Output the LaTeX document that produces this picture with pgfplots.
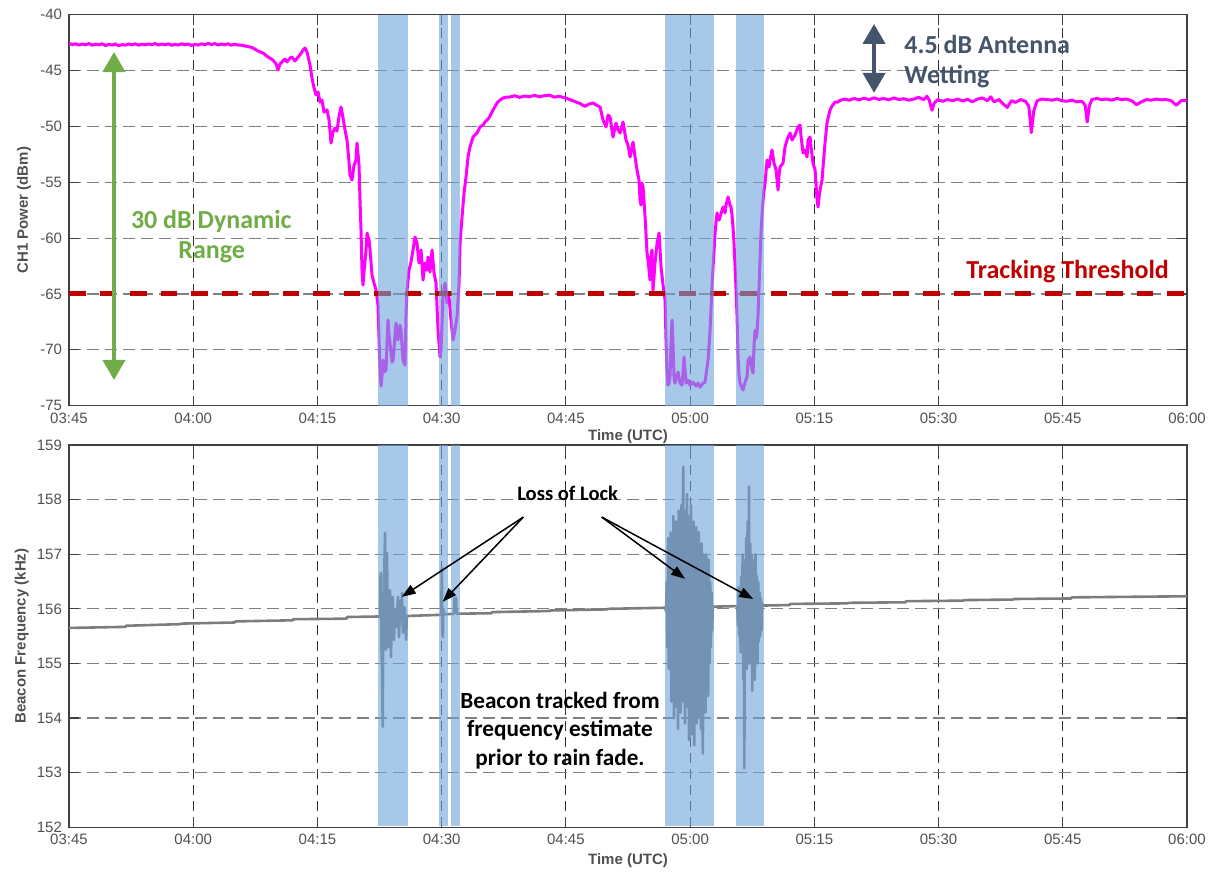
\documentclass[border=0pt]{standalone}
\usepackage{fontspec}
\setmainfont{Liberation Sans}
\newfontfamily\calib{Carlito}
\usepackage{pgfplots}
\pgfplotsset{compat=1.18}
\usetikzlibrary{arrows.meta}
\definecolor{mag}{RGB}{255,0,255}
\definecolor{thr}{RGB}{192,0,0}
\definecolor{spanc}{RGB}{110,163,218}
\definecolor{grn}{RGB}{112,173,71}
\definecolor{slate}{RGB}{68,84,106}
\definecolor{lgray}{RGB}{125,125,125}
\definecolor{tickc}{RGB}{80,80,80}
\pgfplotsset{
  base/.style={
    scale only axis, width=559pt, xmin=0, xmax=135,
    xtick={0,15,...,135},
    xticklabels={03:45,04:00,04:15,04:30,04:45,05:00,05:15,05:30,05:45,06:00},
    grid=major,
    major x grid style={black!80, line width=0.5pt, dash pattern=on 5pt off 3pt},
    major y grid style={black!50, line width=0.6pt, dash pattern=on 6pt off 3pt},
    axis line style={black!75, line width=0.7pt},
    tick align=inside, major tick length=5pt,
    tick style={black!75, line width=0.6pt},
    ticklabel style={font=\fontsize{7.5}{9}\selectfont, text=tickc},
    /pgf/number format/assume math mode=true,
    label style={font=\bfseries\fontsize{7.5}{9}\selectfont, text=tickc},
  },
  span/.style={fill=spanc, fill opacity=0.6, draw=none, forget plot},
}
\begin{document}
\begin{tikzpicture}
\useasboundingbox (0pt,0pt) rectangle (604.5pt,436pt);
% ---------------- top axis ----------------
\begin{axis}[base, at={(34.5pt,233.15pt)}, anchor=south west, height=195.5pt,
  ymin=-75, ymax=-40, ytick={-75,-70,...,-40},
  ylabel={CH1 Power (dBm)},
  ylabel style={at={(axis description cs:-0.0402,0.5)}, anchor=center},
  xlabel={Time (UTC)},
  xlabel style={at={(axis description cs:0.5,-0.080)}, anchor=center},
]
\addplot[mag, line width=1.5pt, line join=round, no marks] coordinates {
(0,-42.55)(0.4,-42.68)(0.8,-42.6)(1.2,-42.72)(1.6,-42.62)(2.0,-42.7)(2.4,-42.58)(2.8,-42.74)(3.2,-42.64)(3.6,-42.7)
(4.0,-42.6)(4.4,-42.76)(4.8,-42.66)(5.2,-42.72)(5.6,-42.62)(6.0,-42.78)(6.4,-42.68)(6.8,-42.72)(7.2,-42.62)(7.6,-42.7)
(8.0,-42.6)(8.4,-42.74)(8.8,-42.64)(9.2,-42.7)(9.6,-42.62)(10.0,-42.68)(10.4,-42.58)(10.8,-42.72)(11.2,-42.62)(11.6,-42.7)
(12.0,-42.6)(12.4,-42.74)(12.8,-42.66)(13.2,-42.72)(13.6,-42.6)(14.0,-42.7)(14.4,-42.62)(14.8,-42.76)(15.2,-42.66)(15.6,-42.72)
(16.0,-42.6)(16.4,-42.7)(16.8,-42.56)(17.2,-42.68)(17.6,-42.58)(18.0,-42.72)(18.4,-42.62)(18.8,-42.7)(19.2,-42.6)(19.6,-42.74)
(20.0,-42.64)(20.4,-42.72)(20.65,-42.71)(21.25,-42.80)(21.86,-42.89)(22.22,-42.98)(22.82,-43.25)(23.43,-43.43)(24.03,-43.79)
(24.63,-44.06)(25.0,-44.41)(25.24,-44.95)(25.48,-44.41)(25.72,-44.23)(26.08,-43.97)(26.33,-44.23)(26.69,-43.88)(26.93,-43.79)
(27.29,-44.15)(27.65,-43.79)(27.89,-43.61)(28.26,-43.16)(28.50,-42.98)(28.74,-43.34)(29.10,-44.50)(29.34,-45.67)(29.59,-46.56)
(29.83,-47.19)(30.07,-46.92)(30.31,-47.82)(30.55,-47.64)(30.79,-48.71)(31.16,-48.53)(31.40,-49.43)(31.64,-51.49)(31.88,-50.50)
(32.12,-50.14)(32.36,-50.41)(32.61,-49.07)(32.85,-48.26)(33.09,-49.25)(33.33,-50.32)(33.57,-51.22)(33.81,-53.19)(33.93,-54.35)
(34.17,-54.80)(34.42,-53.46)(34.66,-53.01)(34.78,-51.49)(35.02,-53.46)(35.14,-56.59)(35.26,-59.28)(35.38,-62.86)(35.50,-64.20)
(35.62,-63.04)(35.87,-61.07)(35.99,-59.55)(36.23,-60.17)(36.35,-61.07)(36.59,-63.31)(36.83,-64.02)(37.07,-64.65)(37.31,-65.99)
(37.44,-69.12)(37.56,-71.81)(37.68,-73.25)(37.80,-72.26)(37.92,-70.92)(38.04,-71.99)(38.28,-71.81)(38.40,-69.57)(38.52,-67.33)
(38.64,-68.68)(38.76,-69.39)(39.01,-71.10)(39.13,-70.92)(39.37,-68.68)(39.49,-67.60)(39.73,-69.12)(39.97,-67.78)(40.09,-68.23)
(40.21,-69.57)(40.33,-70.92)(40.57,-71.37)(40.70,-66.70)(40.82,-64.65)(40.94,-63.75)(41.06,-62.86)(41.30,-62.14)(41.54,-61.07)
(41.78,-59.90)(42.02,-60.44)(42.26,-62.23)(42.51,-61.07)(42.75,-63.75)(42.99,-62.23)(43.23,-62.86)(43.35,-61.69)(43.59,-63.04)
(43.84,-61.07)(44.08,-63.13)(44.32,-64.02)(44.56,-68.23)(44.80,-70.65)(44.92,-70.02)(45.16,-65.28)(45.41,-64.02)(45.65,-65.81)
(45.89,-65.28)(46.13,-67.33)(46.37,-69.12)(46.61,-68.23)(46.85,-67.06)(47.10,-64.02)(47.22,-60.44)(47.46,-58.11)(47.70,-55.96)
(47.94,-54.53)(48.18,-52.74)(48.42,-51.84)(48.79,-50.95)(49.27,-50.59)(49.63,-50.05)(50.0,-49.87)(50.24,-49.61)(50.60,-49.34)
(50.84,-49.07)(51.2,-48.53)(51.68,-47.91)(52.05,-47.64)(52.41,-47.46)(52.89,-47.37)(53.25,-47.37)(53.8,-47.25)(54.4,-47.4)
(55.0,-47.28)(55.6,-47.35)(56.2,-47.22)(56.8,-47.35)(57.4,-47.25)(58.0,-47.2)(58.6,-47.38)(59.2,-47.3)(59.9,-47.45)(60.5,-47.6)
(61.1,-47.78)(61.7,-47.95)(62.3,-48.2)(62.8,-48.0)(63.3,-47.9)(63.7,-48.1)(64.12,-48.26)(64.49,-49.43)(64.85,-50.05)(65.09,-48.98)
(65.33,-49.16)(65.69,-50.95)(66.05,-49.70)(66.30,-50.32)(66.54,-50.59)(66.90,-49.61)(67.26,-51.22)(67.50,-51.67)(67.75,-52.74)
(68.11,-51.40)(68.35,-52.74)(68.59,-53.91)(68.83,-54.80)(68.95,-56.59)(69.07,-57.04)(69.19,-55.07)(69.32,-55.43)(69.56,-58.11)
(69.80,-61.34)(69.92,-61.96)(70.16,-63.75)(70.28,-61.52)(70.40,-61.07)(70.52,-64.65)(70.76,-62.23)(71.01,-60.44)(71.25,-59.55)
(71.37,-61.07)(71.49,-62.59)(71.73,-64.20)(71.97,-65.54)(72.09,-69.12)(72.21,-71.81)(72.33,-73.16)(72.46,-72.98)(72.58,-72.26)
(72.70,-69.12)(72.82,-67.33)(72.94,-69.57)(73.06,-72.53)(73.18,-72.98)(73.42,-72.26)(73.54,-71.99)(73.78,-72.98)(74.03,-73.16)
(74.27,-70.65)(74.39,-71.81)(74.51,-72.98)(74.75,-72.71)(74.99,-73.16)(75.35,-72.89)(75.72,-73.25)(75.96,-72.98)(76.20,-73.34)
(76.56,-72.98)(76.80,-72.89)(76.92,-72.26)(77.16,-70.92)(77.41,-68.23)(77.53,-66.17)(77.65,-64.20)(77.77,-62.59)(77.89,-61.07)
(78.01,-59.55)(78.13,-58.56)(78.25,-57.75)(78.49,-58.38)(78.61,-58.11)(78.86,-57.49)(78.98,-57.22)(79.22,-57.75)(79.34,-57.04)
(79.58,-56.32)(79.82,-57.04)(79.94,-57.22)(80.06,-57.93)(80.18,-59.01)(80.31,-60.62)(80.43,-62.59)(80.55,-64.65)(80.67,-67.06)
(80.79,-70.65)(80.91,-72.26)(81.03,-72.98)(81.27,-73.43)(81.39,-73.61)(81.63,-72.89)(81.87,-72.44)(82.00,-70.92)(82.24,-70.65)
(82.48,-71.81)(82.60,-72.08)(82.72,-69.57)(82.84,-68.23)(82.96,-68.95)(83.08,-68.50)(83.20,-66.88)(83.32,-64.38)(83.44,-61.96)
(83.56,-59.55)(83.68,-57.93)(83.81,-56.59)(83.93,-55.69)(84.05,-55.07)(84.29,-53.01)(84.53,-53.64)(84.65,-53.01)(84.89,-52.11)
(85.13,-53.28)(85.38,-53.91)(85.50,-54.80)(85.62,-55.69)(85.74,-54.35)(85.86,-53.64)(86.22,-53.28)(86.46,-51.84)(86.70,-51.22)
(86.83,-50.95)(87.07,-50.59)(87.31,-51.22)(87.67,-50.77)(88.03,-50.05)(88.27,-49.87)(88.40,-50.95)(88.64,-52.38)(88.88,-52.11)
(89.12,-52.74)(89.24,-51.22)(89.48,-50.95)(89.60,-51.84)(89.84,-53.28)(90.09,-53.91)(90.33,-56.59)(90.45,-57.22)(90.57,-56.32)
(90.69,-55.69)(90.93,-54.80)(91.05,-53.64)(91.29,-51.49)(91.53,-49.70)(91.66,-49.25)(91.90,-48.53)(92.14,-48.17)(92.50,-47.82)
(92.86,-47.82)(93.0,-47.7)(93.6,-47.55)(94.2,-47.65)(94.8,-47.5)(95.4,-47.62)(96.0,-47.48)(96.6,-47.6)(97.2,-47.45)(97.8,-47.58)
(98.4,-47.5)(99.0,-47.62)(99.6,-47.45)(100.2,-47.6)(100.8,-47.52)(101.4,-47.65)(102.0,-47.55)(102.6,-47.4)(103.2,-47.6)(103.6,-47.3)
(103.9,-47.7)(104.2,-48.55)(104.5,-47.9)(104.9,-47.6)(105.5,-47.75)(106.1,-47.6)(106.7,-47.7)(107.3,-47.55)(107.9,-47.72)(108.5,-47.58)
(109.1,-47.8)(109.7,-47.55)(110.3,-47.45)(110.9,-47.7)(111.3,-47.35)(111.7,-47.8)(112.3,-47.6)(112.8,-48.0)(113.3,-48.3)(113.8,-47.7)
(114.3,-47.85)(114.9,-47.6)(115.5,-47.75)(115.9,-48.2)(116.2,-50.55)(116.5,-48.6)(116.9,-47.7)(117.5,-47.55)(118.1,-47.6)(118.7,-47.65)
(119.3,-47.55)(119.9,-47.7)(120.5,-47.75)(121.1,-47.65)(121.7,-47.8)(122.3,-47.75)(122.7,-48.1)(122.95,-49.6)(123.2,-48.2)(123.5,-47.6)
(124.1,-47.5)(124.7,-47.6)(125.3,-47.55)(125.9,-47.65)(126.5,-47.5)(127.1,-47.6)(127.7,-47.55)(128.3,-47.7)(128.9,-48.05)(129.5,-47.8)
(130.1,-47.6)(130.7,-47.65)(131.3,-47.55)(131.9,-47.62)(132.5,-47.6)(133.1,-47.7)(133.7,-48.1)(134.3,-47.7)(135.0,-47.65)
};
\addplot[thr, line width=2.5pt, dash pattern=on 8.25pt off 7pt, no marks] coordinates {(0,-65)(135,-65)};
\addplot[span] coordinates {(37.31,-75)(37.31,-40)(40.94,-40)(40.94,-75)} -- cycle;
\addplot[span] coordinates {(44.68,-75)(44.68,-40)(45.73,-40)(45.73,-75)} -- cycle;
\addplot[span] coordinates {(46.13,-75)(46.13,-40)(47.22,-40)(47.22,-75)} -- cycle;
\addplot[span] coordinates {(71.97,-75)(71.97,-40)(77.85,-40)(77.85,-75)} -- cycle;
\addplot[span] coordinates {(80.54,-75)(80.54,-40)(83.89,-40)(83.89,-75)} -- cycle;
% annotations
\draw[grn, line width=2pt, {Triangle[width=11pt,length=10pt]}-{Triangle[width=11pt,length=10pt]}] (axis cs:5.43,-43.34) -- (axis cs:5.43,-72.7);
\node[anchor=base, inner sep=0, text=grn, font=\calib\bfseries\fontsize{13}{15.5}\selectfont] at (axis cs:17.18,-59.10) {30 dB Dynamic};
\node[anchor=base, inner sep=0, text=grn, font=\calib\bfseries\fontsize{13}{15.5}\selectfont] at (axis cs:17.23,-61.78) {Range};
\draw[slate, line width=2pt, {Triangle[width=11pt,length=10pt]}-{Triangle[width=11pt,length=10pt]}] (axis cs:97.21,-40.83) -- (axis cs:97.21,-47.0);
\node[anchor=base west, inner sep=0, text=slate, font=\calib\bfseries\fontsize{13}{15.5}\selectfont] at (axis cs:100.83,-43.46) {4.5 dB Antenna};
\node[anchor=base west, inner sep=0, text=slate, font=\calib\bfseries\fontsize{13}{15.5}\selectfont] at (axis cs:100.83,-46.14) {Wetting};
\node[anchor=base, inner sep=0, text=thr, font=\calib\bfseries\fontsize{13}{15.5}\selectfont] at (axis cs:120.58,-63.57) {Tracking Threshold};
\end{axis}
% ---------------- bottom axis ----------------
\begin{axis}[base, at={(34.5pt,22.35pt)}, anchor=south west, height=191.15pt,
  ymin=152, ymax=159, ytick={152,153,...,159},
  ylabel={Beacon Frequency (kHz)},
  ylabel style={at={(axis description cs:-0.0423,0.5)}, anchor=center},
  xlabel={Time (UTC)},
  xlabel style={at={(axis description cs:0.5,-0.088)}, anchor=center},
]
\addplot[lgray, line width=1.3pt, line join=round, no marks] coordinates {
(0,155.65)(6.8,155.67)(6.9,155.69)(13.5,155.72)(13.6,155.73)(20,155.75)(20.1,155.77)(27,155.79)(27.1,155.81)(33.5,155.82)(33.6,155.85)
(37.45,155.86)(37.56,155.85)(37.62,156.6)(37.68,156.66)(37.74,155.2)(37.80,154.93)(37.88,153.84)(37.96,155.9)(38.04,156.29)(38.10,156.9)
(38.16,157.39)(38.22,155.6)(38.28,155.25)(38.34,156.5)(38.40,157.02)(38.48,155.8)(38.56,155.3)(38.61,155.56)(38.68,156.1)(38.76,156.34)
(38.82,155.6)(38.89,155.12)(38.96,155.9)(39.02,156.1)(39.09,156.22)(39.16,155.7)(39.25,155.43)(39.31,155.8)(39.37,155.98)(39.47,155.7)
(39.57,155.67)(39.65,156.0)(39.73,156.22)(39.79,155.8)(39.85,155.48)(39.95,155.9)(40.06,156.16)(40.13,155.9)(40.21,156.29)(40.27,155.8)
(40.33,155.56)(40.44,155.9)(40.54,156.03)(40.62,155.7)(40.70,155.43)(40.78,155.8)(40.85,155.87)
(44.95,155.89)(45.02,156.75)(45.08,155.6)(45.14,155.48)(45.2,156.0)(45.3,155.9)(46.5,155.91)(46.55,156.2)(46.75,156.2)(46.8,155.91)
(51,155.92)(51.1,155.94)(58,155.96)(58.1,155.97)(65,155.99)(65.1,156.0)(72.0,156.02)
(72.10,155.95)(72.18,156.5)(72.26,155.3)(72.34,157.3)(72.42,154.9)(72.50,156.9)(72.58,155.0)(72.66,157.4)(72.74,154.3)(72.82,157.0)
(72.90,154.6)(72.98,157.7)(73.06,154.0)(73.14,157.2)(73.22,154.5)(73.30,157.6)(73.38,154.2)(73.46,156.9)(73.54,153.8)(73.62,157.8)
(73.70,154.4)(73.78,157.3)(73.86,154.1)(73.94,157.9)(74.02,154.6)(74.10,157.4)(74.18,158.6)(74.22,154.3)(74.30,157.5)(74.38,153.9)
(74.46,157.8)(74.54,154.4)(74.62,158.1)(74.70,154.2)(74.78,157.4)(74.86,153.6)(74.94,157.7)(75.02,154.5)(75.10,157.9)(75.18,153.7)
(75.26,157.3)(75.34,154.2)(75.42,157.6)(75.50,153.5)(75.58,157.2)(75.66,154.3)(75.74,157.5)(75.82,153.9)(75.90,157.1)(75.98,154.0)
(76.06,157.4)(76.14,154.4)(76.22,156.9)(76.30,153.8)(76.38,157.2)(76.46,154.2)(76.54,153.35)(76.62,157.0)(76.70,154.6)(76.78,156.8)
(76.86,154.1)(76.94,157.0)(77.02,154.8)(77.10,156.6)(77.18,154.4)(77.26,156.9)(77.34,155.0)(77.42,156.5)(77.50,155.3)(77.58,156.3)
(77.66,155.6)(77.74,156.05)(77.8,156.04)
(80.70,156.05)(80.78,155.7)(80.86,156.4)(80.94,155.5)(81.02,156.3)(81.10,155.2)(81.18,156.6)(81.26,155.4)(81.34,157.0)(81.42,154.7)
(81.50,156.8)(81.55,153.08)(81.62,156.9)(81.70,155.0)(81.78,157.3)(81.86,154.9)(81.94,157.6)(82.02,155.2)(82.11,158.24)(82.18,155.0)
(82.26,157.2)(82.34,155.3)(82.42,157.0)(82.50,154.5)(82.58,156.7)(82.66,155.2)(82.74,156.9)(82.82,154.7)(82.90,157.0)(82.98,155.3)
(83.06,156.6)(83.14,155.0)(83.22,156.5)(83.30,155.4)(83.38,156.3)(83.46,155.5)(83.54,156.2)(83.62,155.6)(83.70,156.1)(83.76,156.05)
(83.8,156.06)(87,156.07)(87.1,156.09)(94,156.1)(94.1,156.11)(101,156.12)(101.1,156.14)(108,156.15)(108.1,156.16)(114,156.17)
(114.1,156.18)(121,156.19)(121.1,156.21)(128,156.22)(135,156.23)
};
\addplot[span] coordinates {(37.31,152.03)(37.31,159)(40.94,159)(40.94,152.03)} -- cycle;
\addplot[span] coordinates {(44.68,152.03)(44.68,159)(45.73,159)(45.73,152.03)} -- cycle;
\addplot[span] coordinates {(46.13,152.03)(46.13,159)(47.22,159)(47.22,152.03)} -- cycle;
\addplot[span] coordinates {(71.97,152.03)(71.97,159)(77.85,159)(77.85,152.03)} -- cycle;
\addplot[span] coordinates {(80.54,152.03)(80.54,159)(83.89,159)(83.89,152.03)} -- cycle;
\node[anchor=base, inner sep=0, font=\calib\bfseries\fontsize{10.3}{12}\selectfont] at (axis cs:60.22,157.98) {Loss of Lock};
\draw[black, line width=0.75pt, -{Triangle[width=5pt,length=7pt]}] (axis cs:54.86,157.68) -- (axis cs:40.17,156.22);
\draw[black, line width=0.75pt, -{Triangle[width=5pt,length=7pt]}] (axis cs:54.86,157.68) -- (axis cs:45.12,156.13);
\draw[black, line width=0.75pt, -{Triangle[width=5pt,length=7pt]}] (axis cs:64.33,157.68) -- (axis cs:74.39,156.55);
\draw[black, line width=0.75pt, -{Triangle[width=5pt,length=7pt]}] (axis cs:64.33,157.68) -- (axis cs:82.63,156.18);
\node[anchor=base, inner sep=0, font=\calib\bfseries\fontsize{11.6}{14}\selectfont] at (axis cs:59.29,154.18) {Beacon tracked from};
\node[anchor=base, inner sep=0, font=\calib\bfseries\fontsize{11.6}{14}\selectfont] at (axis cs:59.29,153.66) {frequency estimate};
\node[anchor=base, inner sep=0, font=\calib\bfseries\fontsize{11.6}{14}\selectfont] at (axis cs:59.29,153.14) {prior to rain fade.};
\end{axis}
\end{tikzpicture}
\end{document}
